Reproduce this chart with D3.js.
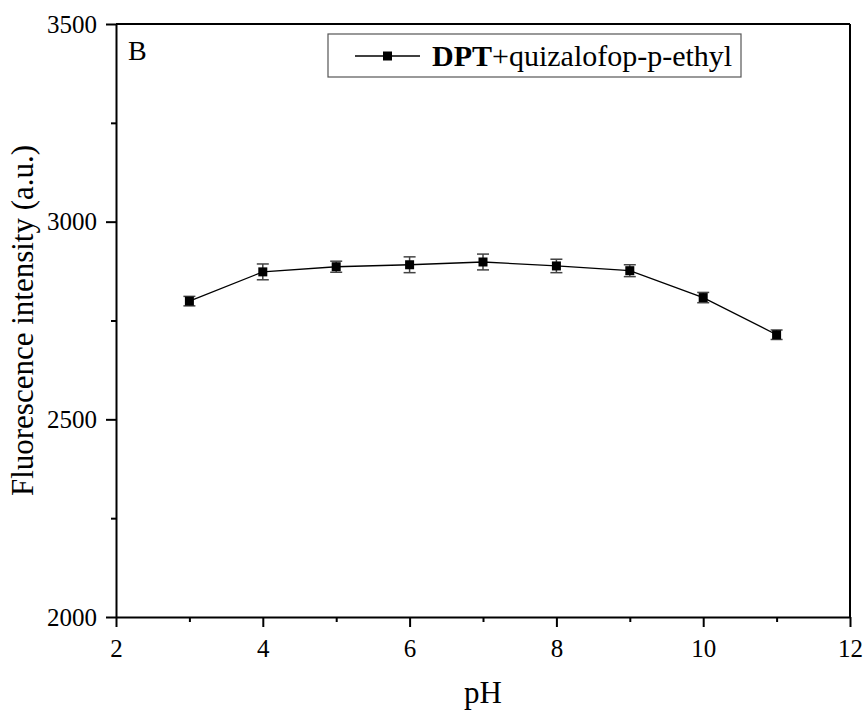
<!DOCTYPE html>
<html>
<head>
<meta charset="utf-8">
<script src="https://cdn.jsdelivr.net/npm/d3@7"></script>
<style>
  body { margin: 0; background: #fff; }
  svg, svg text { font-family: "Liberation Serif", "Times New Roman", "DejaVu Serif", serif; }
</style>
</head>
<body>
<div id="chart"></div>
<script>
// values
const phValues = [3, 4, 5, 6, 7, 8, 9, 10, 11];
const intensity = [2799, 2873, 2886, 2891, 2898, 2888, 2876, 2808, 2714];
const errors = [12, 20, 14, 20, 20, 17, 15, 13, 12];
const xTicks = [2, 4, 6, 8, 10, 12];
const yTicks = [2000, 2500, 3000, 3500];
const seriesName = { bold: 'DPT', rest: '+quizalofop-p-ethyl' };

const width = 866, height = 713;
const margin = {top: 24, right: 16, bottom: 96, left: 116};
const w = width - margin.left - margin.right;
const h = height - margin.top - margin.bottom;
const serif = '"Liberation Serif", "Times New Roman", serif';

const svg = d3.select('#chart').append('svg')
    .attr('width', width)
    .attr('height', height);

const g = svg.append('g').attr('transform', 'translate(' + margin.left + ',' + margin.top + ')');

const x = d3.scaleLinear().domain([2, 12]).range([0, w]);
const y = d3.scaleLinear().domain([2000, 3500]).range([h, 0]);

// minor ticks
const xMinor = d3.range(3, 12, 2);
const yMinor = d3.range(2250, 3500, 500);

g.append('g')
    .attr('transform', 'translate(0,' + h + ')')
    .call(d3.axisBottom(x).tickValues(xMinor).tickSize(5).tickFormat(''))
    .call(a => a.select('.domain').remove())
    .selectAll('line').attr('stroke-width', 2);
g.append('g')
    .call(d3.axisLeft(y).tickValues(yMinor).tickSize(5).tickFormat(''))
    .call(a => a.select('.domain').remove())
    .selectAll('line').attr('stroke-width', 2);

const xAxis = g.append('g')
    .attr('transform', 'translate(0,' + h + ')')
    .call(d3.axisBottom(x).tickValues(xTicks).tickSize(10).tickSizeOuter(0).tickPadding(12));
const yAxis = g.append('g')
    .call(d3.axisLeft(y).tickValues(yTicks).tickFormat(d3.format('d'))
        .tickSize(10).tickSizeOuter(0).tickPadding(9));

[xAxis, yAxis].forEach(a => {
    a.attr('font-family', serif).attr('font-size', 25);
    a.select('.domain').attr('stroke-width', 2);
    a.selectAll('line').attr('stroke-width', 2);
    a.selectAll('text').attr('fill', '#000');
});

// top and right frame
g.append('line').attr('x1', 0).attr('x2', w).attr('y1', 0).attr('y2', 0)
    .attr('stroke', '#000').attr('stroke-width', 2);
g.append('line').attr('x1', w).attr('x2', w).attr('y1', 0).attr('y2', h)
    .attr('stroke', '#000').attr('stroke-width', 2);

// axis titles
svg.append('text')
    .attr('x', margin.left + w / 2)
    .attr('y', 703)
    .attr('text-anchor', 'middle')
    .attr('font-family', serif)
    .attr('font-size', 31)
    .text('pH');
svg.append('text')
    .attr('transform', 'translate(33,' + (margin.top + h / 2) + ') rotate(-90)')
    .attr('text-anchor', 'middle')
    .attr('font-family', serif)
    .attr('font-size', 31)
    .text('Fluorescence intensity (a.u.)');

// panel letter
g.append('text').attr('x', 12).attr('y', 36)
    .attr('font-family', serif).attr('font-size', 28).text('B');

const data = phValues.map((p, i) => ({ph: p, v: intensity[i], e: errors[i]}));

// line
const line = d3.line().x(d => x(d.ph)).y(d => y(d.v));
g.append('path')
    .datum(data)
    .attr('fill', 'none')
    .attr('stroke', '#000')
    .attr('stroke-width', 1.3)
    .attr('d', line);

// error bars
const eb = g.append('g').attr('stroke', '#444').attr('stroke-width', 1.5);
data.forEach(d => {
    eb.append('line').attr('x1', x(d.ph)).attr('x2', x(d.ph))
        .attr('y1', y(d.v + d.e)).attr('y2', y(d.v - d.e));
    [d.v + d.e, d.v - d.e].forEach(v => {
        eb.append('line').attr('x1', x(d.ph) - 6).attr('x2', x(d.ph) + 6)
            .attr('y1', y(v)).attr('y2', y(v));
    });
});

// markers
g.selectAll('rect.pt')
    .data(data)
    .enter().append('rect')
    .attr('class', 'pt')
    .attr('x', d => x(d.ph) - 4.5)
    .attr('y', d => y(d.v) - 4.5)
    .attr('width', 9)
    .attr('height', 9)
    .attr('fill', '#000');

// legend
const leg = svg.append('g');
leg.append('rect')
    .attr('x', 328).attr('y', 34).attr('width', 413).attr('height', 43)
    .attr('fill', '#fff').attr('stroke', '#555').attr('stroke-width', 1.2);
leg.append('line').attr('x1', 355).attr('x2', 420).attr('y1', 56).attr('y2', 56)
    .attr('stroke', '#000').attr('stroke-width', 1.3);
leg.append('rect').attr('x', 383).attr('y', 51.5).attr('width', 9).attr('height', 9).attr('fill', '#000');
const lt = leg.append('text').attr('x', 432).attr('y', 66)
    .attr('font-family', serif).attr('font-size', 30);
lt.append('tspan').attr('font-weight', 'bold').text(seriesName.bold);
lt.append('tspan').text(seriesName.rest);
</script>
</body>
</html>
